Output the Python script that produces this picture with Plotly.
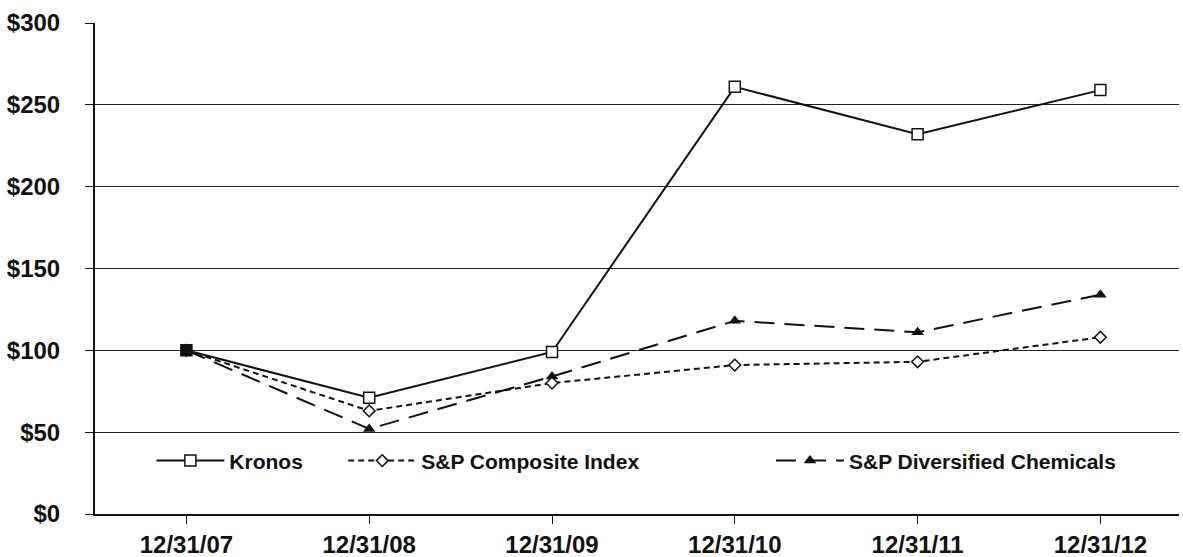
import plotly.graph_objects as go

dates = ["12/31/07", "12/31/08", "12/31/09", "12/31/10", "12/31/11", "12/31/12"]
kronos = [100, 71, 99, 261, 232, 259]
sp_composite = [100, 63, 80, 91, 93, 108]
sp_diversified = [100, 52, 84, 118, 111, 134]
y_ticks = [0, 50, 100, 150, 200, 250, 300]
y_labels = ["$0", "$50", "$100", "$150", "$200", "$250", "$300"]

xi = list(range(len(dates)))
fig = go.Figure()

fig.add_trace(go.Scatter(
    x=xi, y=sp_diversified, mode="lines+markers", name="<b>S&P Diversified Chemicals</b>",
    line=dict(color="#111", width=2, dash="20px,10px"),
    marker=dict(symbol="triangle-up", size=11, color="#111"),
    legend="legend3"))
fig.add_trace(go.Scatter(
    x=xi, y=sp_composite, mode="lines+markers", name="<b>S&P Composite Index</b>",
    line=dict(color="#111", width=2, dash="6px,4px"),
    marker=dict(symbol="diamond", size=9, color="white", line=dict(color="#111", width=1.5)),
    legend="legend2"))
fig.add_trace(go.Scatter(
    x=xi, y=kronos, mode="lines+markers", name="<b>Kronos</b>",
    line=dict(color="#111", width=2),
    marker=dict(symbol="square", size=11, color="white", line=dict(color="#111", width=1.5)),
    legend="legend"))
# overlapped start point appears filled
fig.add_trace(go.Scatter(
    x=[xi[0]], y=[kronos[0]], mode="markers", showlegend=False,
    marker=dict(symbol="square", size=11, color="#111")))

font_lbl = dict(family="Liberation Sans, Arial, sans-serif", size=24, color="#111")
leg_common = dict(orientation="h", bgcolor="rgba(0,0,0,0)", yanchor="middle", y=0.108,
                  xanchor="left", font=dict(family="Liberation Sans, Arial, sans-serif", size=21, color="#111"),
                  itemwidth=68, tracegroupgap=0)

fig.update_layout(
    width=1183, height=557,
    margin=dict(l=95, r=4, t=23, b=43),
    paper_bgcolor="white", plot_bgcolor="white",
    font=dict(family="Liberation Sans, Arial, sans-serif", color="#111"),
    legend=dict(x=0.052, **leg_common),
    legend2=dict(x=0.229, **leg_common),
    legend3=dict(x=0.6236, **leg_common),
    xaxis=dict(
        range=[-0.5, 5.43], tickmode="array", tickvals=xi,
        ticktext=["<b>%s</b>" % d for d in dates],
        tickfont=font_lbl, showgrid=False, zeroline=False, automargin=False,
        showline=True, linecolor="#111", linewidth=2,
        ticks="outside", ticklen=8, tickcolor="#111", tickwidth=1, ticklabelstandoff=0),
    yaxis=dict(
        range=[0, 300], tickmode="array", tickvals=y_ticks,
        ticktext=["<b>%s</b>" % t for t in y_labels],
        tickfont=font_lbl, showgrid=True, gridcolor="#222", gridwidth=1, automargin=False,
        zeroline=False, showline=True, linecolor="#111", linewidth=2,
        ticks="outside", ticklen=8, tickcolor="#111", tickwidth=1, ticklabelstandoff=20),
)

fig.write_html("out.html", config={"displayModeBar": False},
               post_script="document.body.style.margin='0';")
